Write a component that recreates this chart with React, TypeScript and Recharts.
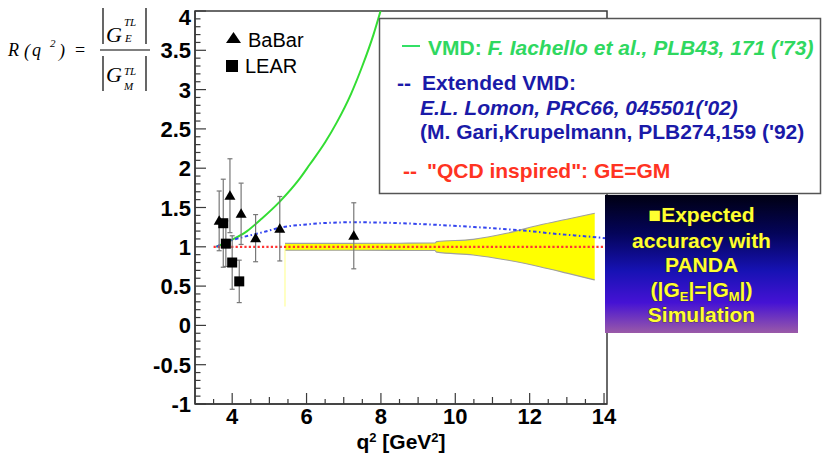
import React from 'react';
import {
  ComposedChart,
  XAxis,
  YAxis,
  Line,
  Scatter,
  Area,
  ErrorBar,
  ReferenceArea,
  ReferenceLine,
} from 'recharts';

// ---- data ----
const BABAR_Q2 = [3.65, 3.94, 4.24, 4.63, 5.28, 7.27];
const BABAR_R = [1.33, 1.65, 1.42, 1.11, 1.23, 1.14];
const BABAR_ERR = [0.38, 0.47, 0.39, 0.3, 0.41, 0.42];

const LEAR_Q2 = [3.76, 3.83, 4.0, 4.19];
const LEAR_R = [1.3, 1.04, 0.8, 0.56];
const LEAR_ERR = [0.56, 0.29, 0.34, 0.27];

const VMD_Q2 = [3.57, 3.8, 4.0, 4.4, 4.8, 5.28, 5.82, 6.09, 6.5, 6.81, 7.2, 7.5, 7.8, 7.99];
const VMD_R = [1.0, 1.045, 1.09, 1.2, 1.36, 1.575, 1.87, 2.05, 2.33, 2.58, 2.95, 3.3, 3.7, 4.0];

const EVMD_Q2 = [3.58, 3.8, 4.0, 4.3, 4.65, 4.9, 5.28, 6.0, 6.6, 7.27, 8.0, 8.8, 9.59, 10.5, 11.38, 12.0, 12.54, 13.2, 13.8, 14.08];
const EVMD_R = [1.0, 1.05, 1.085, 1.125, 1.165, 1.195, 1.243, 1.285, 1.305, 1.312, 1.308, 1.295, 1.277, 1.252, 1.223, 1.2, 1.172, 1.145, 1.121, 1.108];

const QCD_Q2 = [3.5, 14.08];
const QCD_R = [1, 1];

const BAND_Q2 = [5.42, 7.0, 8.5, 9.45, 9.5, 10.48, 11.38, 12.27, 13.0, 13.75];
const BAND_LO = [0.957, 0.956, 0.954, 0.952, 0.932, 0.896, 0.832, 0.747, 0.665, 0.578];
const BAND_HI = [1.043, 1.044, 1.046, 1.048, 1.066, 1.095, 1.172, 1.277, 1.35, 1.426];
const BAND_EDGE_Q2 = 5.42;
const BAND_EDGE_R = [1.0, 0.24];

const X_DOMAIN: [number, number] = [3, 14.08];
const Y_DOMAIN: [number, number] = [-1, 4];
const X_LABELS = [4, 6, 8, 10, 12, 14];
const Y_LABELS = [-1, -0.5, 0, 0.5, 1, 1.5, 2, 2.5, 3, 3.5, 4];

// ---- derived tables ----
const babarData = BABAR_Q2.map((x, i) => ({ x, y: BABAR_R[i], err: BABAR_ERR[i] }));
const learData = LEAR_Q2.map((x, i) => ({ x, y: LEAR_R[i], err: LEAR_ERR[i] }));
const vmdData = VMD_Q2.map((x, i) => ({ x, y: VMD_R[i] }));
const evmdData = EVMD_Q2.map((x, i) => ({ x, y: EVMD_R[i] }));
const qcdData = QCD_Q2.map((x, i) => ({ x, y: QCD_R[i] }));
const bandData = BAND_Q2.map((x, i) => ({ x, range: [BAND_LO[i], BAND_HI[i]] }));

const X_TICKS: number[] = [];
for (let k = 7; k <= 28; k++) X_TICKS.push(k / 2);
const Y_TICKS: number[] = [];
for (let k = -10; k <= 40; k++) Y_TICKS.push(k / 10);

const SANS = '"Liberation Sans", Arial, Helvetica, sans-serif';
const SERIF = '"Liberation Serif", "Times New Roman", serif';
const AXIS_COLOR = '#3a3a3a';

const isLabelY = (v: number) => Y_LABELS.some((l) => Math.abs(l - v) < 1e-6);

const YTick = (props: any) => {
  const { x, y, payload } = props;
  const v = payload.value;
  const major = isLabelY(v);
  const ax = x + 3;
  return (
    <g>
      <line x1={ax} x2={ax + (major ? 11 : 5.5)} y1={y} y2={y} stroke={AXIS_COLOR} strokeWidth={1.2} />
      {major && (
        <text
          x={x - 1}
          y={y + (v >= 4 ? 14 : 8)}
          textAnchor="end"
          fontFamily={SANS}
          fontWeight="bold"
          fontSize={22}
          fill="#000"
        >
          {String(Math.round(v * 10) / 10)}
        </text>
      )}
    </g>
  );
};

const XTick = (props: any) => {
  const { x, y, payload } = props;
  const v = payload.value;
  const isLabel = X_LABELS.some((l) => Math.abs(l - v) < 1e-6);
  const isInt = Math.abs(v - Math.round(v)) < 1e-6;
  const len = isLabel ? 11 : isInt ? 7 : 5;
  return (
    <g>
      <line x1={x} x2={x} y1={y} y2={y - len} stroke={AXIS_COLOR} strokeWidth={1.2} />
      {isLabel && (
        <text x={x} y={y + 20} textAnchor="middle" fontFamily={SANS} fontWeight="bold" fontSize={22} fill="#000">
          {String(v)}
        </text>
      )}
    </g>
  );
};

const TriangleShape = (p: any) => (
  <polygon
    points={`${p.cx},${p.cy - 5.5} ${p.cx - 5.5},${p.cy + 4} ${p.cx + 5.5},${p.cy + 4}`}
    fill="#000"
  />
);
const SquareShape = (p: any) => <rect x={p.cx - 5} y={p.cy - 5} width={10} height={10} fill="#000" />;

const Overlay = () => (
  <svg
    width={822}
    height={454}
    style={{ position: 'absolute', left: 0, top: 0, pointerEvents: 'none' }}
  >
    <defs>
      <linearGradient id="pandaGrad" x1="0" y1="0" x2="0" y2="1">
        <stop offset="0%" stopColor="#000012" />
        <stop offset="28%" stopColor="#04045a" />
        <stop offset="55%" stopColor="#1712b4" />
        <stop offset="78%" stopColor="#4512d4" />
        <stop offset="100%" stopColor="#9a5aa8" />
      </linearGradient>
    </defs>

    {/* formula */}
    <g fontFamily={SERIF} fontStyle="italic" fill="#000">
      <text x={8} y={56} fontSize={18}>R</text>
      <text x={24} y={57} fontSize={18}>(</text>
      <text x={32} y={56} fontSize={18}>q</text>
      <text x={50} y={47} fontSize={11}>2</text>
      <text x={59} y={57} fontSize={18}>)</text>
      <text x={75} y={56} fontSize={18} fontStyle="normal">=</text>
      <line x1={100} x2={150} y1={50} y2={50} stroke="#000" strokeWidth={1.2} />
      <line x1={103} x2={103} y1={8} y2={44} stroke="#000" strokeWidth={1.2} />
      <line x1={146} x2={146} y1={8} y2={44} stroke="#000" strokeWidth={1.2} />
      <text x={106} y={42} fontSize={22}>G</text>
      <text x={124} y={26} fontSize={11}>TL</text>
      <text x={125} y={42} fontSize={11}>E</text>
      <line x1={103} x2={103} y1={56} y2={91} stroke="#000" strokeWidth={1.2} />
      <line x1={146} x2={146} y1={56} y2={91} stroke="#000" strokeWidth={1.2} />
      <text x={106} y={82} fontSize={22}>G</text>
      <text x={124} y={75} fontSize={11}>TL</text>
      <text x={124} y={90} fontSize={11}>M</text>
    </g>

    {/* data legend */}
    <polygon points="233.5,32 226,43 241,43" fill="#000" />
    <text x={248} y={47} fontFamily={SANS} fontSize={20} fill="#000">BaBar</text>
    <rect x={226} y={60} width={12} height={12} fill="#000" />
    <text x={245} y={73} fontFamily={SANS} fontSize={20} fill="#000">LEAR</text>

    {/* x axis title */}
    <text x={401} y={449} textAnchor="middle" fontFamily={SANS} fontWeight="bold" fontSize={21} fill="#000">
      q<tspan fontSize={13} dy={-7}>2</tspan>
      <tspan dy={7}> [GeV</tspan>
      <tspan fontSize={13} dy={-7}>2</tspan>
      <tspan dy={7}>]</tspan>
    </text>

    {/* model legend box */}
    <rect x={379.5} y={18.5} width={441} height={175} fill="#fff" stroke="#555" strokeWidth={1.5} />
    <g fontFamily={SANS} fontWeight="bold" fontSize={21}>
      <line x1={402} x2={420} y1={46} y2={46} stroke="#33e066" strokeWidth={2} />
      <text x={428} y={55} fill="#2fd860">
        VMD: <tspan fontStyle="italic">F. Iachello et al., PLB43, 171 ('73)</tspan>
      </text>
      <text x={397} y={90} fill="#1a1aa8">--</text>
      <text x={422} y={90} fill="#1a1aa8">Extended VMD:</text>
      <text x={420} y={115} fill="#1a1aa8" fontStyle="italic">E.L. Lomon, PRC66, 045501('02)</text>
      <text x={420} y={139} fill="#1a1aa8">(M. Gari,Krupelmann, PLB274,159 ('92)</text>
      <text x={403} y={178} fill="#ff3322">--</text>
      <text x={427} y={178} fill="#ff3322">"QCD inspired": GE=GM</text>
    </g>

    {/* PANDA box */}
    <rect x={605} y={195} width={193} height={138} fill="url(#pandaGrad)" />
    <g
      fontFamily={SANS}
      fontWeight="bold"
      fontSize={21}
      fill="#ffff30"
      stroke="#2a2a10"
      strokeWidth={0.6}
      style={{ paintOrder: 'stroke' }}
      textAnchor="middle"
    >
      <text x={701.5} y={222}>■Expected</text>
      <text x={701.5} y={248}>accuracy with</text>
      <text x={701.5} y={272}>PANDA</text>
      <text x={701.5} y={297}>
        (|G<tspan fontSize={13} dy={4}>E</tspan>
        <tspan dy={-4}>|=|G</tspan>
        <tspan fontSize={13} dy={4}>M</tspan>
        <tspan dy={-4}>|)</tspan>
      </text>
      <text x={701.5} y={322}>Simulation</text>
    </g>
  </svg>
);

export default function App() {
  return (
    <div style={{ position: 'absolute', left: 0, top: 0, width: 822, height: 454, background: '#fff' }}>
      <ComposedChart width={822} height={454} margin={{ top: 11, right: 215, bottom: 0, left: 0 }}>
        <XAxis
          type="number"
          dataKey="x"
          domain={X_DOMAIN}
          ticks={X_TICKS}
          interval={0}
          allowDataOverflow
          height={50}
          tickSize={0}
          tickMargin={0}
          tickLine={false}
          axisLine={{ stroke: AXIS_COLOR, strokeWidth: 1.5 }}
          tick={<XTick />}
        />
        <YAxis
          type="number"
          dataKey="y"
          domain={Y_DOMAIN}
          ticks={Y_TICKS}
          interval={0}
          allowDataOverflow
          width={195}
          tickSize={0}
          tickMargin={3}
          tickLine={false}
          axisLine={{ stroke: AXIS_COLOR, strokeWidth: 1.5 }}
          tick={<YTick />}
        />
        <ReferenceArea
          x1={X_DOMAIN[0]}
          x2={X_DOMAIN[1]}
          y1={Y_DOMAIN[0]}
          y2={Y_DOMAIN[1]}
          fill="none"
          stroke={AXIS_COLOR}
          strokeWidth={1.5}
        />
        <Area
          data={bandData}
          dataKey="range"
          type="monotone"
          fill="#ffff00"
          fillOpacity={1}
          stroke="#a0a0a0"
          strokeWidth={1.1}
          isAnimationActive={false}
        />
        <ReferenceLine
          segment={[
            { x: BAND_EDGE_Q2, y: BAND_EDGE_R[0] },
            { x: BAND_EDGE_Q2, y: BAND_EDGE_R[1] },
          ]}
          stroke="#ffff88"
          strokeWidth={1}
        />
        <Line
          data={vmdData}
          dataKey="y"
          type="monotone"
          stroke="#33dd33"
          strokeWidth={2}
          dot={false}
          isAnimationActive={false}
        />
        <Line
          data={evmdData}
          dataKey="y"
          type="monotone"
          stroke="#3344ee"
          strokeWidth={2}
          strokeDasharray="3.5 2.5 1.5 2.5"
          dot={false}
          isAnimationActive={false}
        />
        <Line
          data={qcdData}
          dataKey="y"
          type="linear"
          stroke="#ff3333"
          strokeWidth={2.2}
          strokeDasharray="2.2 2.2"
          dot={false}
          isAnimationActive={false}
        />
        <Scatter data={babarData} dataKey="y" shape={<TriangleShape />} isAnimationActive={false}>
          <ErrorBar dataKey="err" direction="y" width={2.5} stroke="#777" strokeWidth={1.2} />
        </Scatter>
        <Scatter data={learData} dataKey="y" shape={<SquareShape />} isAnimationActive={false}>
          <ErrorBar dataKey="err" direction="y" width={2.5} stroke="#777" strokeWidth={1.2} />
        </Scatter>
      </ComposedChart>
      <Overlay />
    </div>
  );
}
